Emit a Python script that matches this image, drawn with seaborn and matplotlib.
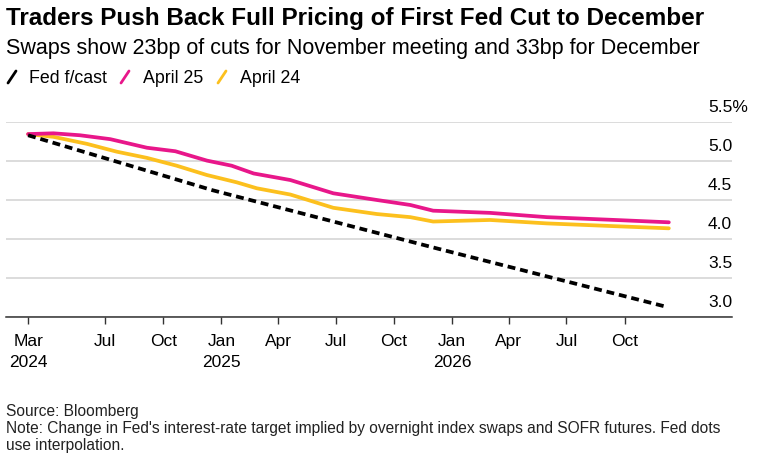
import matplotlib
matplotlib.use("Agg")
import matplotlib.pyplot as plt
import matplotlib.transforms as mtransforms
from matplotlib.lines import Line2D
import seaborn as sns
import pandas as pd

# ---------------- data ----------------
fed_dates = ["2024-03-01", "2024-12-18", "2025-12-10", "2026-12-09"]
fed_values = [5.33, 4.625, 3.875, 3.125]

apr25_dates = ["2024-03-01", "2024-04-10", "2024-05-22", "2024-07-09", "2024-09-05",
               "2024-10-20", "2024-12-09", "2025-01-17", "2025-02-21", "2025-04-20",
               "2025-06-27", "2025-09-04", "2025-10-27", "2025-12-02", "2026-03-02",
               "2026-05-31", "2026-09-13", "2026-12-10"]
apr25_values = [5.345, 5.355, 5.33, 5.28, 5.17,
                5.125, 5.005, 4.94, 4.84, 4.756,
                4.586, 4.50, 4.436, 4.363, 4.335,
                4.28, 4.245, 4.214]

apr24_dates = ["2024-03-01", "2024-04-10", "2024-06-02", "2024-07-19", "2024-09-05",
               "2024-10-22", "2024-12-09", "2025-01-25", "2025-02-26", "2025-04-20",
               "2025-06-27", "2025-09-04", "2025-10-27", "2025-12-02", "2026-03-02",
               "2026-05-31", "2026-09-13", "2026-12-10"]
apr24_values = [5.345, 5.31, 5.22, 5.12, 5.04,
                4.94, 4.82, 4.727, 4.65, 4.57,
                4.40, 4.32, 4.28, 4.224, 4.244,
                4.20, 4.165, 4.137]

x_tick_dates = ["2024-03-01", "2024-07-01", "2024-10-01", "2025-01-01", "2025-04-01",
                "2025-07-01", "2025-10-01", "2026-01-01", "2026-04-01", "2026-07-01",
                "2026-10-01"]
x_tick_labels = ["Mar\n2024", "Jul", "Oct", "Jan\n2025", "Apr", "Jul", "Oct",
                 "Jan\n2026", "Apr", "Jul", "Oct"]
y_ticks = [3.0, 3.5, 4.0, 4.5, 5.0, 5.5]
y_tick_labels = ["3.0", "3.5", "4.0", "4.5", "5.0", "5.5%"]

series_names = ["Fed f/cast", "April 25", "April 24"]
colors = {"Fed f/cast": "#000000", "April 25": "#e8178a", "April 24": "#fcc01e"}

title = "Traders Push Back Full Pricing of First Fed Cut to December"
subtitle = "Swaps show 23bp of cuts for November meeting and 33bp for December"
footer_lines = ["Source: Bloomberg",
                "Note: Change in Fed's interest-rate target implied by overnight index swaps and SOFR futures. Fed dots",
                "use interpolation."]

# ---------------- frames ----------------
fed_df = pd.DataFrame({"date": pd.to_datetime(fed_dates), "rate": fed_values})
a25_df = pd.DataFrame({"date": pd.to_datetime(apr25_dates), "rate": apr25_values})
a24_df = pd.DataFrame({"date": pd.to_datetime(apr24_dates), "rate": apr24_values})

# ---------------- style ----------------
sns.set_theme(style="white")
plt.rcParams['font.family'] = ['Liberation Sans', 'DejaVu Sans']

W, H = 759, 461
fig = plt.figure(figsize=(W / 100, H / 100), dpi=100)
fig.patch.set_facecolor("white")

ax_left, ax_right, ax_top, ax_bottom = 6, 732, 122, 317
ax = fig.add_axes([ax_left / W, (H - ax_bottom) / H,
                   (ax_right - ax_left) / W, (ax_bottom - ax_top) / H])

lw = 2.7
sns.lineplot(data=a24_df, x="date", y="rate", ax=ax, color=colors["April 24"],
             linewidth=lw, estimator=None, sort=True)
sns.lineplot(data=a25_df, x="date", y="rate", ax=ax, color=colors["April 25"],
             linewidth=lw, estimator=None, sort=True)
sns.lineplot(data=fed_df, x="date", y="rate", ax=ax, color=colors["Fed f/cast"],
             linewidth=lw, estimator=None, sort=True)
ax.lines[-1].set_dashes((2.1, 1.3))
for ln in ax.lines:
    ln.set_solid_capstyle("round")

ax.set_xlim(pd.Timestamp("2024-01-26"), pd.Timestamp("2027-03-20"))
ax.set_ylim(3.0, 5.5)

ax.set_xlabel("")
ax.set_ylabel("")

# x axis
ax.set_xticks(pd.to_datetime(x_tick_dates))
ax.set_xticklabels(x_tick_labels, fontsize=12.5, color="#000000", linespacing=1.5)
ax.tick_params(axis="x", bottom=True, length=5, width=1.0, color="#333333", pad=7)

# y axis: gridlines + labels above lines on the right
ax.set_yticks(y_ticks)
ax.set_yticklabels([])
ax.tick_params(axis="y", left=False, right=False, length=0)
ax.grid(axis="y", color="#d9d9d9", linewidth=1.3)
ax.grid(axis="x", visible=False)
ax.set_axisbelow(True)

for s in ["top", "right", "left"]:
    ax.spines[s].set_visible(False)
ax.spines["bottom"].set_color("#333333")
ax.spines["bottom"].set_linewidth(1.1)
ax.spines["bottom"].set_zorder(5)

lab_trans = mtransforms.blended_transform_factory(ax.transAxes, ax.transData) + \
    mtransforms.ScaledTranslation(0, 10 / 100, fig.dpi_scale_trans)
lab_x = (708 - ax_left) / (ax_right - ax_left)
for v, t in zip(y_ticks, y_tick_labels):
    ax.text(lab_x, v, t, transform=lab_trans, ha="left", va="baseline",
            fontsize=12.5, color="#000000")

# ---------------- header ----------------
def fy(py):
    return 1 - py / H

fig.text(6 / W, fy(25), title, fontsize=17.5, fontweight="bold", ha="left",
         va="baseline", color="#000000")
fig.text(6 / W, fy(54), subtitle, fontsize=15.5, ha="left", va="baseline",
         color="#000000")

# legend
leg_items = [(8, 29), (121, 143), (218, 240)]
for name, (sx, tx) in zip(series_names, leg_items):
    fig.add_artist(Line2D([sx / W, (sx + 8) / W], [fy(83), fy(71)],
                          transform=fig.transFigure, color=colors[name],
                          linewidth=2.0, solid_capstyle="round"))
    fig.text(tx / W, fy(83), name, fontsize=12.8, ha="left", va="baseline",
             color="#000000")

# footer
for line, by in zip(footer_lines, [415.5, 432.5, 449.5]):
    fig.text(6 / W, fy(by), line, fontsize=11.2, ha="left", va="baseline",
             color="#222222")

fig.savefig("out.png", dpi=100, facecolor="white")
